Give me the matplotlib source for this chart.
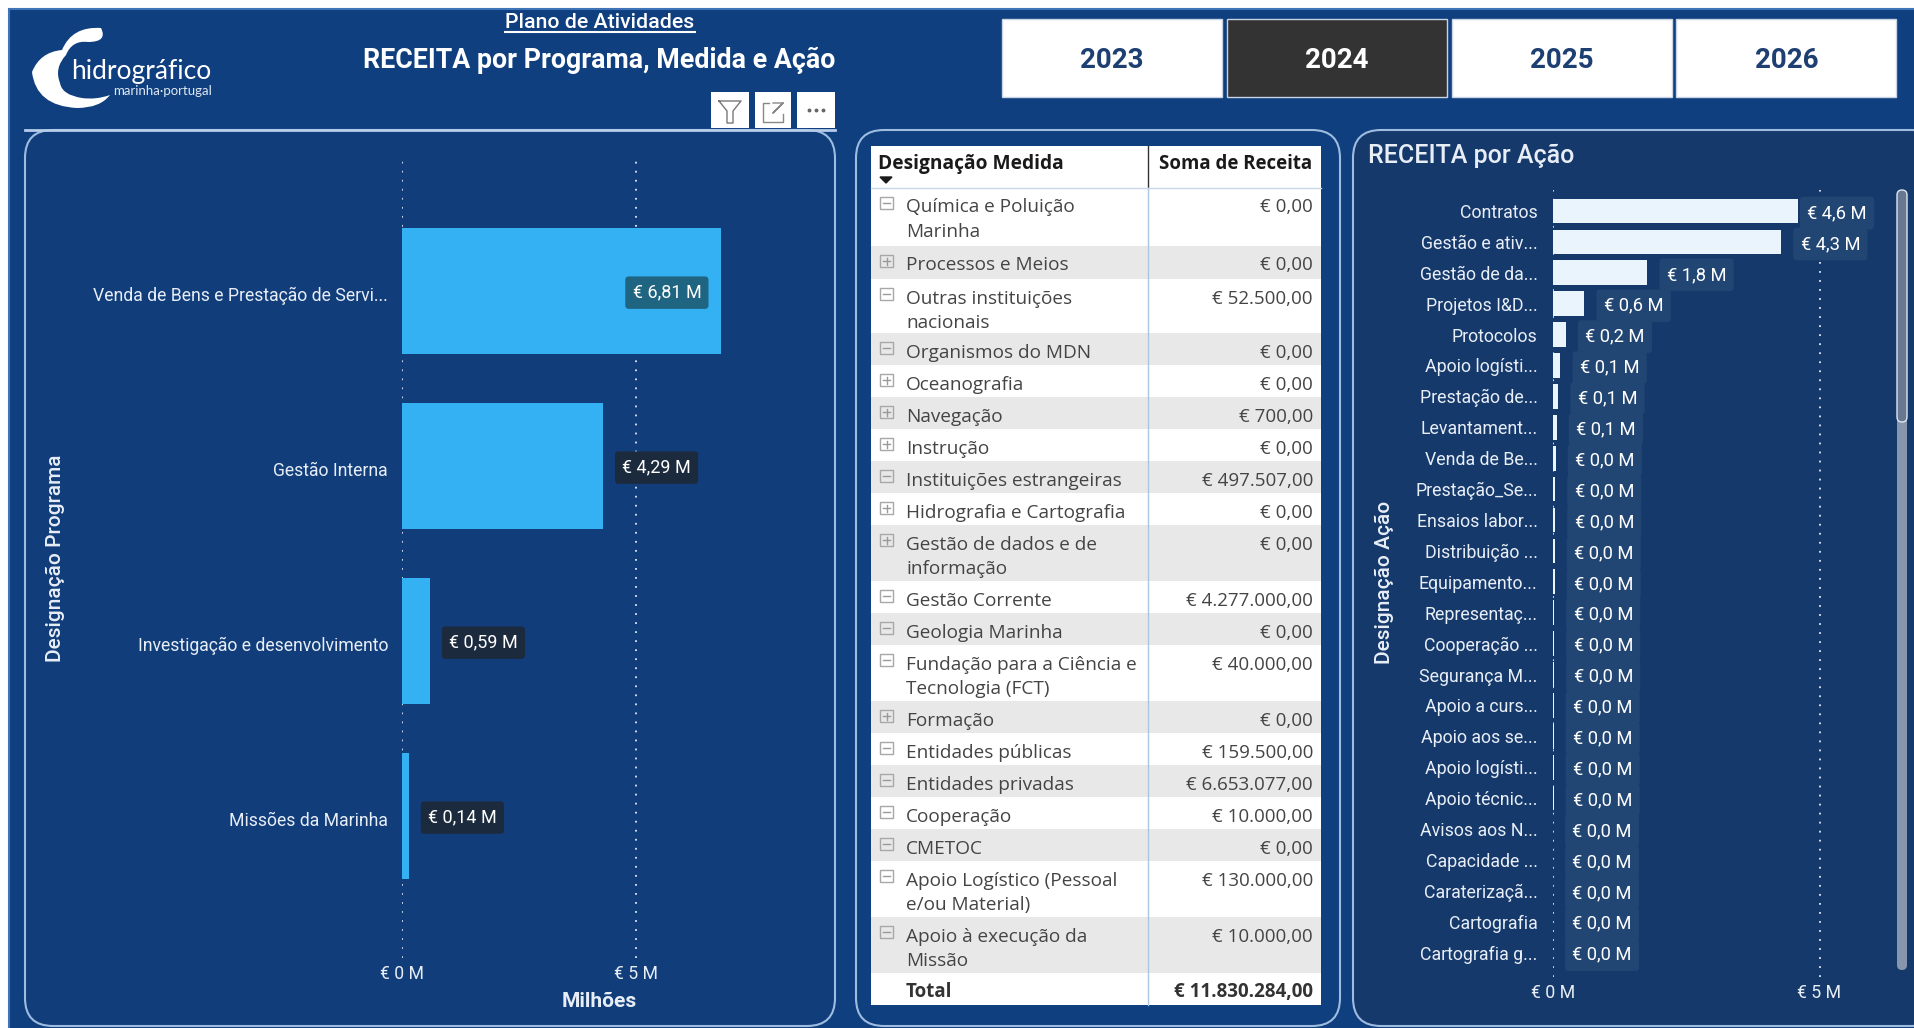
import matplotlib
matplotlib.use("Agg")
import matplotlib.pyplot as plt
from matplotlib.patches import FancyBboxPatch, PathPatch, Rectangle
from matplotlib.path import Path
from matplotlib.transforms import ScaledTranslation

W, H = 1914, 1028

programas = ["Venda de Bens e Prestação de Servi...", "Gestão Interna",
             "Investigação e desenvolvimento", "Missões da Marinha"]
programa_valores = [6.81, 4.29, 0.59, 0.14]
programa_labels = ["€ 6,81 M", "€ 4,29 M", "€ 0,59 M", "€ 0,14 M"]

acoes = ["Contratos", "Gestão e ativ...", "Gestão de da...", "Projetos I&D...", "Protocolos",
         "Apoio logísti...", "Prestação de...", "Levantament...", "Venda de Be...", "Prestação_Se...",
         "Ensaios labor...", "Distribuição ...", "Equipamento...", "Representaç...", "Cooperação ...",
         "Segurança M...", "Apoio a curs...", "Apoio aos se...", "Apoio logísti...", "Apoio técnic...",
         "Avisos aos N...", "Capacidade ...", "Caraterizaçã...", "Cartografia", "Cartografia g..."]
acao_valores = [4.59, 4.28, 1.77, 0.59, 0.24, 0.14, 0.10, 0.07, 0.05, 0.04, 0.04, 0.03, 0.03,
                0.02, 0.02, 0.02, 0.01, 0.01, 0.01, 0.01, 0.0, 0.0, 0.0, 0.0, 0.0]
acao_labels = ["€ 4,6 M", "€ 4,3 M", "€ 1,8 M", "€ 0,6 M", "€ 0,2 M", "€ 0,1 M", "€ 0,1 M", "€ 0,1 M"] + ["€ 0,0 M"] * 17

medidas = ["Química e Poluição\nMarinha", "Processos e Meios", "Outras instituições\nnacionais",
           "Organismos do MDN", "Oceanografia", "Navegação", "Instrução", "Instituições estrangeiras",
           "Hidrografia e Cartografia", "Gestão de dados e de\ninformação", "Gestão Corrente",
           "Geologia Marinha", "Fundação para a Ciência e\nTecnologia (FCT)", "Formação",
           "Entidades públicas", "Entidades privadas", "Cooperação", "CMETOC",
           "Apoio Logístico (Pessoal\ne/ou Material)", "Apoio à execução da\nMissão"]
medida_receita = ["€ 0,00", "€ 0,00", "€ 52.500,00", "€ 0,00", "€ 0,00", "€ 700,00", "€ 0,00", "€ 497.507,00",
                  "€ 0,00", "€ 0,00", "€ 4.277.000,00", "€ 0,00", "€ 40.000,00", "€ 0,00", "€ 159.500,00",
                  "€ 6.653.077,00", "€ 10.000,00", "€ 0,00", "€ 130.000,00", "€ 10.000,00"]
medida_expandida = [1, 0, 1, 1, 0, 0, 0, 1, 0, 0, 1, 1, 1, 0, 1, 1, 1, 1, 1, 1]
total_receita = "€ 11.830.284,00"

anos = ["2023", "2024", "2025", "2026"]

BG = "#0f3f7e"
PANEL_R = "#16396c"
EDGE = "#9dbce0"
TXT = "#e8eef6"
FONT = "Roboto"
TABLE_FONT = "Open Sans"

plt.rcParams["font.family"] = [FONT, "DejaVu Sans"]
fig = plt.figure(figsize=(W / 100, H / 100), dpi=100, facecolor="white")

# camada de fundo em pixeis
bg = fig.add_axes([0, 0, 1, 1], zorder=0)
bg.set_xlim(0, W)
bg.set_ylim(H, 0)
bg.axis("off")
bg.add_patch(Rectangle((9, 9), W, H, fc=BG, ec="#3f74b8", lw=1.5))


def painel(x0, y0, x1, y1, fc):
    bg.add_patch(FancyBboxPatch((x0 + 28, y0 + 28), x1 - x0 - 56, y1 - y0 - 56,
                                boxstyle="round,pad=28,rounding_size=28",
                                fc=fc, ec=EDGE, lw=1.5))


painel(25, 130, 835, 1026, "#113d7b")
painel(856, 130, 1340, 1026, BG)
painel(1353, 130, 1940, 1026, PANEL_R)
bg.plot([25, 835], [130, 130], color="#b5cdea", lw=2)

# logo
verts = [(101, 28), (72, 26), (62, 50), (40, 52), (32, 72), (36, 106), (77, 108), (100, 108), (110, 95),
         (96, 100), (82, 98), (62, 95), (60, 83), (54, 68), (66, 55), (72, 40), (88, 42), (108, 42), (101, 28)]
codes = [Path.MOVETO] + [Path.CURVE3] * 18
bg.add_patch(PathPatch(Path(verts, codes), fc="white", ec="none"))
bg.text(71, 72, "hidrográfico", color="white", fontsize=19, family="Lato", va="center", ha="left")
bg.text(113, 91, "marinha·portugal", color="#dfe7f2", fontsize=9.5, family="Lato", va="center", ha="left")

# titulos
bg.text(600, 22, "Plano de Atividades", color="white", fontsize=15.3, ha="center", va="center", fontweight="medium")
bg.plot([505, 695], [32, 32], color="white", lw=1.5)
bg.text(599, 60, "RECEITA por Programa, Medida e Ação", color="white", fontsize=19.3, ha="center", va="center", fontweight="bold")

# botoes de ano
for i, ano in enumerate(anos):
    x0 = 1002 + i * 224.8
    sel = ano == "2024"
    bg.add_patch(Rectangle((x0, 19), 220, 78, fc="#333333" if sel else "white", ec="#c8d4e4", lw=1))
    bg.text(x0 + 110, 60, ano, color="white" if sel else "#1d3f72", fontsize=20, ha="center", va="center", fontweight="bold")

# icones do visual
for x0, x1 in [(711, 749), (755, 791), (797, 835)]:
    bg.add_patch(Rectangle((x0, 92), x1 - x0, 36, fc="white", ec="none"))
bg.plot([719, 741, 733, 733, 727, 727, 719], [101, 101, 111, 123, 123, 111, 101], color="#777777", lw=1)
bg.plot([769, 763, 763, 783, 783], [103, 103, 122, 122, 114], color="#888888", lw=1)
bg.plot([773, 783, 783, 773, 783], [103, 103, 103, 113, 103], color="#888888", lw=1)
bg.plot([809, 816, 823], [110, 110, 110], ls="none", marker="o", ms=1.8, color="#666666")


def eixo_pixeis(x0, y0, x1, y1):
    ax = fig.add_axes([x0 / W, 1 - y1 / H, (x1 - x0) / W, (y1 - y0) / H], zorder=2)
    ax.patch.set_alpha(0)
    for s in ax.spines.values():
        s.set_visible(False)
    return ax


# grafico por programa
ax = eixo_pixeis(402, 160, 820, 958)
ax.barh(range(len(programas)), programa_valores, height=0.72, color="#33b1f3", zorder=2)
ax.set_xlim(0, 418 / 46.8)
ax.set_ylim(3.81, -0.75)
ax.set_xticks([0, 5], ["€ 0 M", "€ 5 M"])
ax.set_yticks(range(len(programas)), programas)
ax.tick_params(length=0, colors=TXT, labelsize=12.7)
ax.tick_params(axis="y", pad=10)
ax.tick_params(axis="x", pad=5)
for lab in ax.get_yticklabels():
    lab.set_transform(lab.get_transform() + ScaledTranslation(0, -2 / 72, fig.dpi_scale_trans))
ax.grid(axis="x", color="#dfe8f3", ls=(0, (1, 4)), lw=1.3, zorder=1)
ax.set_axisbelow(True)
ax.set_xlabel("Milhões", color=TXT, fontsize=15, fontweight="bold")
ax.xaxis.set_label_coords(599, 992, transform=bg.transData)
ax.set_ylabel("Designação Programa", color=TXT, fontsize=15, fontweight="medium")
ax.yaxis.set_label_coords(65, 558, transform=bg.transData)
for i, (v, t) in enumerate(zip(programa_valores, programa_labels)):
    dentro = v > 6
    ax.annotate(t, (v, i), xytext=(-14 if dentro else 14, -1), textcoords="offset points",
                ha="right" if dentro else "left", va="center", color="white", fontsize=13, zorder=4,
                bbox=dict(boxstyle="round,pad=0.4,rounding_size=0.2", fc="#1f6480" if dentro else "#1c2a3e", ec="none"))

# tabela
tx0, tx1, tsplit = 871, 1321, 1148
bg.add_patch(Rectangle((tx0, 146), tx1 - tx0, 42, fc="white", ec="none"))
bg.text(878, 164, "Designação Medida", color="#1a1a1a", fontsize=13.8, family=TABLE_FONT, fontweight="bold", va="center")
bg.text(tx1 - 9, 164, "Soma de Receita", color="#1a1a1a", fontsize=13.4, family=TABLE_FONT, fontweight="bold", va="center", ha="right")
bg.fill([880, 892, 886], [177, 177, 183], color="#1a1a1a")
y = 188
for i, (m, r, e) in enumerate(zip(medidas, medida_receita, medida_expandida)):
    dupla = "\n" in m
    h = 56 if dupla else 32
    if i < 3:
        h = [58, 33, 54][i]  # as primeiras linhas sao irregulares na imagem
    bg.add_patch(Rectangle((tx0, y), tx1 - tx0, h, fc="white" if i % 2 == 0 else "#e8e8e8", ec="none"))
    bg.add_patch(Rectangle((880, y + 9), 13, 12, fc="none", ec="#a8a8a8", lw=1))
    bg.plot([883, 890], [y + 15, y + 15], color="#999999", lw=1)
    if not e:
        bg.plot([886.5, 886.5], [y + 11.5, y + 18.5], color="#999999", lw=1)
    bg.text(906, y + 10.5, m, color="#444444", fontsize=13.7, family=TABLE_FONT, va="top", linespacing=1.45)
    bg.text(tx1 - 8, y + 10.5, r, color="#444444", fontsize=13.5, family=TABLE_FONT, va="top", ha="right")
    y += h
bg.add_patch(Rectangle((tx0, y), tx1 - tx0, 1005 - y, fc="white", ec="none"))
bg.text(906, (y + 1005) / 2 + 3, "Total", color="#333333", fontsize=13.5, family=TABLE_FONT, fontweight="bold", va="center")
bg.text(tx1 - 8, (y + 1005) / 2 + 3, total_receita, color="#333333", fontsize=13.5, family=TABLE_FONT, fontweight="bold", va="center", ha="right")
bg.plot([tsplit, tsplit], [146, 188], color="#333333", lw=1)
bg.plot([tsplit, tsplit], [188, 1005], color="#a9c6e4", lw=1)
bg.plot([tx0, tx1], [188, 188], color="#c9d8e8", lw=1)

# grafico por acao
bg.text(1368, 156, "RECEITA por Ação", color=TXT, fontsize=18, va="center", fontweight="medium")
ax2 = eixo_pixeis(1553, 190, 1890, 977)
ax2.barh(range(len(acoes)), acao_valores, height=0.8, color="#eaf4fc", zorder=2)
ax2.set_xlim(0, 337 / 53.3)
ax2.set_ylim((977 - 211) / 30.9, (190 - 211) / 30.9)
ax2.set_xticks([0, 5], ["€ 0 M", "€ 5 M"])
ax2.set_yticks(range(len(acoes)), acoes)
ax2.tick_params(length=0, colors=TXT, labelsize=12.8)
ax2.tick_params(axis="y", pad=11)
ax2.tick_params(axis="x", pad=5)
ax2.grid(axis="x", color="#dfe8f3", ls=(0, (1, 4)), lw=1.3, zorder=1)
ax2.set_axisbelow(True)
ax2.set_ylabel("Designação Ação", color=TXT, fontsize=15, fontweight="medium")
ax2.yaxis.set_label_coords(1394, 582, transform=bg.transData)
for i, (v, t) in enumerate(zip(acao_valores, acao_labels)):
    ax2.annotate(t, (v, i), xytext=(7 if v > 4.5 else 14, -1.5), textcoords="offset points", ha="left", va="center",
                 color="white", fontsize=13.2, zorder=4,
                 bbox=dict(boxstyle="round,pad=0.4,rounding_size=0.2", fc="#224673", ec="none"))

# barra de scroll
bg.add_patch(FancyBboxPatch((1897, 195), 10, 775, boxstyle="round,pad=0,rounding_size=5", fc="#8796ad", ec="none"))
bg.add_patch(FancyBboxPatch((1897, 190), 10, 232, boxstyle="round,pad=0,rounding_size=5", fc="#687890", ec="#dfe6ef", lw=1))

fig.savefig("out.png", dpi=100)
